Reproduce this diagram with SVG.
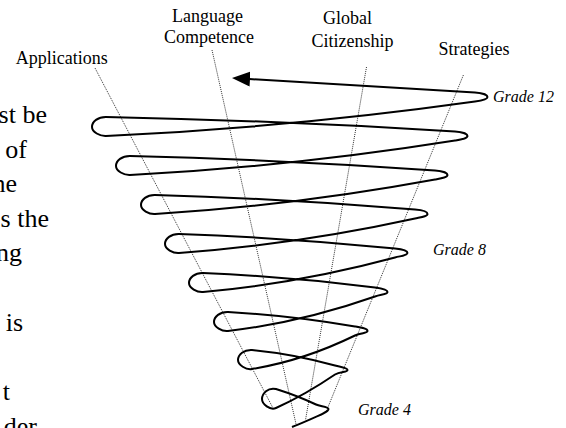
<svg xmlns="http://www.w3.org/2000/svg" width="566" height="428" viewBox="0 0 566 428">
<style>
.lbl{font-family:"Liberation Serif","Times New Roman",serif;font-size:18px;fill:#000;text-anchor:middle}
.grade{font-family:"Liberation Serif","Times New Roman",serif;font-size:16px;font-style:italic;fill:#000}
.para{font-family:"Liberation Serif","Times New Roman",serif;font-size:26px;fill:#000;text-anchor:end}
.axis{stroke:#333;stroke-width:1;stroke-dasharray:1 1;fill:none}
.spiral{stroke:#000;stroke-width:2;fill:none;stroke-linejoin:round}
</style>
<defs>
<marker id="ah" viewBox="0 0 18 15" refX="4" refY="7.5" markerWidth="18" markerHeight="15" markerUnits="userSpaceOnUse" orient="auto-start-reverse">
<path d="M0,0 L18,7.5 L0,15 z" fill="#000"/>
</marker>
</defs>
<rect width="566" height="428" fill="#fff"/>
<g id="paragraph">
<text class="para" x="47" y="123">st be</text>
<text class="para" x="27" y="158">of</text>
<text class="para" x="17" y="192">he</text>
<text class="para" x="49" y="227">s the</text>
<text class="para" x="22" y="261">ng</text>
<text class="para" x="23" y="331">is</text>
<text class="para" x="10" y="400">t</text>
<text class="para" x="37" y="435">der</text>
</g>
<g id="connectors">
<line class="axis" x1="95" y1="68" x2="274" y2="410"/>
<line class="axis" x1="212" y1="50" x2="296" y2="424"/>
<line class="axis" x1="366.5" y1="67" x2="305.5" y2="420"/>
<line class="axis" x1="463.4" y1="75" x2="326" y2="412"/>
<path id="spiral" class="spiral" marker-start="url(#ah)" d="M246,78.8 L475,92.5 C481,92.9 487.5,94.5 487.5,97 C487.5,99.5 481,100.7 475,101.5 C352,118.75 229,130.25 106,136 C100,136.3 92,132 92,127 C92,121.5 98,116.9 106,117 C222.3,119.4 338.7,124.25 455,131.5 C461,131.9 467.5,133.5 467.5,136 C467.5,138.5 461,139.5 455,140.5 C346.7,157.75 238.3,169.25 130,175 C124,175.3 116,171 116,166 C116,160.5 122,155.9 130,156 C231.7,158.4 333.3,163.25 435,170.5 C441,170.9 447.5,172.5 447.5,175 C447.5,177.5 441,178.4 435,179.5 C341.7,196.75 248.3,208.25 155,214 C149,214.4 141,210 141,205 C141,199.5 147,194.8 155,195 C241.7,197.4 328.3,202.25 415,209.5 C421,210 427.5,211.5 427.5,214 C427.5,216.5 421,217.2 415,218.5 C336.3,235.75 257.7,247.25 179,253 C173,253.4 165,249 165,244 C165,238.5 171,233.8 179,234 C251,236.4 323,241.25 395,248.5 C401,249.1 407.5,250.5 407.5,253 C407.5,255.5 401,255.9 395,257.5 C331,274.75 267,286.25 203,292 C197,292.5 189,288 189,283 C189,277.5 195,272.7 203,273 C260.3,275.4 317.7,280.25 375,287.5 C381,288.3 387.5,289.5 387.5,292 C387.5,294.5 381,294.4 375,296.5 C326,313.75 277,325.25 228,331 C222,331.7 214,327 214,322 C214,316.5 220,311.7 228,312 C270.3,314.4 312.7,319.25 355,326.5 C361,327.5 367.5,328.5 367.5,331 C367.5,333.5 361,332.5 355,335.5 C320.7,352.25 286.3,363.4 252,369 C246,370 238,365 238,360 C238,354.5 244,349.5 252,350 C279.7,352.6 307.3,357.75 335,365.5 C341,367.2 347.5,367.5 347.5,370 C347.5,372.5 340,371.1 335,374.5 C315.3,387.9 295.7,399.1 276,408 C270,410.7 262,404 262,399 C262,393.5 268,387.1 276,389 C289,393.1 303,398.3 316,404.5 C320,406.4 328.5,406.5 328.5,409 C328.5,412.5 318,416 292,427"/>
</g>
<g id="node-applications"><text class="lbl" x="61.7" y="64">Applications</text></g>
<g id="node-language"><text class="lbl" x="207.5" y="22">Language</text><text class="lbl" x="209" y="43">Competence</text></g>
<g id="node-global"><text class="lbl" x="347.5" y="24">Global</text><text class="lbl" x="352.5" y="47">Citizenship</text></g>
<g id="node-strategies"><text class="lbl" x="474" y="55">Strategies</text></g>
<g id="node-grade12"><text class="grade" x="493" y="102">Grade 12</text></g>
<g id="node-grade8"><text class="grade" x="433" y="255">Grade 8</text></g>
<g id="node-grade4"><text class="grade" x="358" y="415">Grade 4</text></g>
</svg>
